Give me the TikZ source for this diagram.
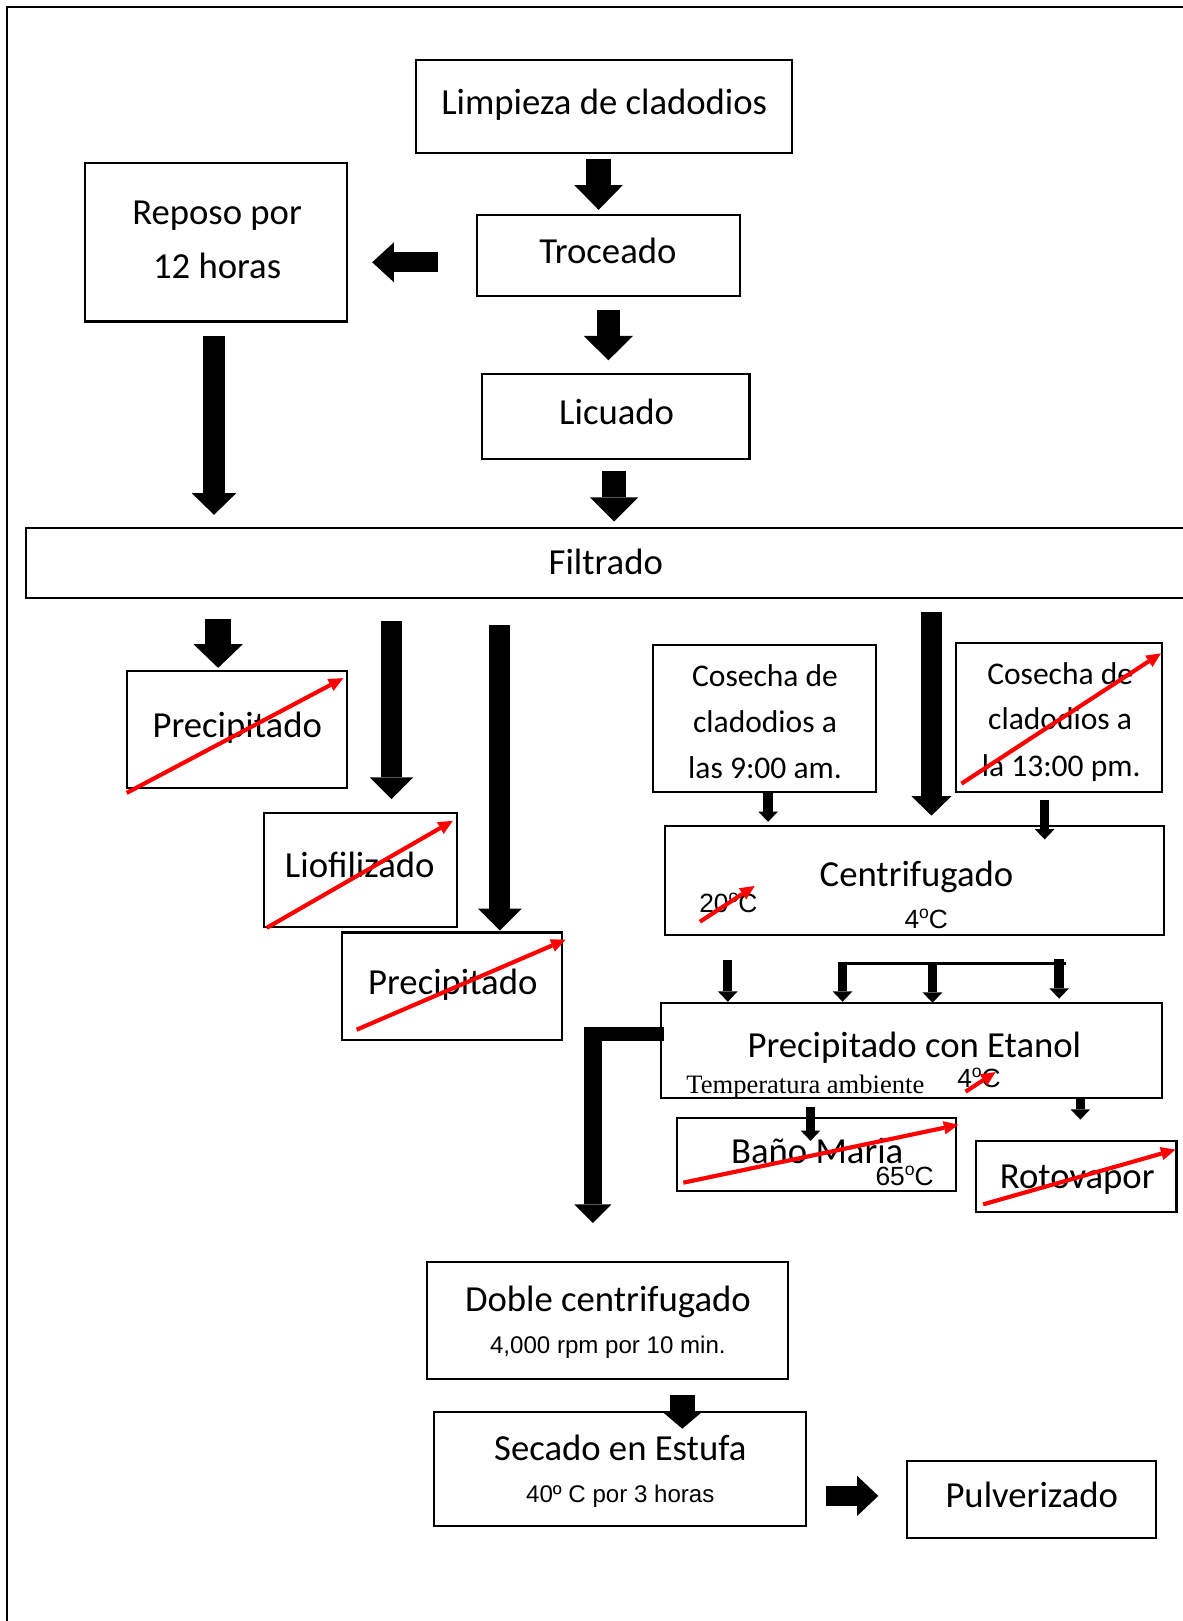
\documentclass[tikz,border=0pt]{standalone}
\usepackage{fontspec}
\setmainfont{Carlito}
\newfontfamily\arialfam{Liberation Sans}
\newfontfamily\serifam{Liberation Serif}
\usetikzlibrary{arrows.meta,calc}

% small raised "o" used as degree sign
\newcommand\supo{\raisebox{10pt}{\fontsize{17}{17}\selectfont o}}

\tikzset{
  box/.style={draw, line width=2pt, inner sep=0pt},
  lbl/.style={anchor=base, inner sep=0pt, font=\fontsize{35.5}{40}\selectfont},
  lblsmall/.style={anchor=base, inner sep=0pt, font=\fontsize{30.5}{36}\selectfont},
  degtxt/.style={anchor=base, inner sep=0pt, font=\arialfam\fontsize{25.5}{30}\selectfont},
  notetxt/.style={anchor=base, inner sep=0pt, font=\arialfam\fontsize{23.3}{28}\selectfont},
  serifnote/.style={anchor=base, inner sep=0pt, font=\serifam\fontsize{25.7}{30}\selectfont},
  blockarrow/.style n args={3}{line width=#1, -{Triangle[width=#2, length=#3, line width=0pt]}},
  fatarrow/.style={blockarrow={24pt}{47pt}{24pt}},
  longarrow/.style={blockarrow={20.5pt}{42pt}{21pt}},
  thinarrow/.style={blockarrow={9pt}{19pt}{10pt}},
  strike/.style={red, line width=4pt, -{Triangle[width=13pt, length=14pt, line width=0pt]}},
}

\begin{document}
\begin{tikzpicture}[x=1pt, y=-1pt]
\useasboundingbox (0,0) rectangle (1144,1568);

% page frame (top and left edges)
\draw[line width=2.2pt] (6.5,1580) -- (6.5,6.5) -- (1160,6.5);

% ---------- process boxes ----------
\node[box, minimum width=364pt, minimum height=90pt]  (limp)  at (584,103) {};
\node[box, minimum width=255pt, minimum height=78pt]  (troc)  at (588.5,247) {};
\node[box, minimum width=259pt, minimum height=82pt]  (licu)  at (595.5,403) {};
\node[box, minimum width=254pt, minimum height=153pt] (repo)  at (209,234.5) {};
\node[box, minimum width=1122pt, minimum height=67pt] (filt)  at (586,544.5) {};
\node[box, minimum width=213pt, minimum height=113pt] (prec1) at (229.5,705.5) {};
\node[box, minimum width=187pt, minimum height=111pt] (liof)  at (348.5,841.5) {};
\node[box, minimum width=213pt, minimum height=104pt] (prec2) at (437.5,954) {};
\node[box, minimum width=215pt, minimum height=142pt] (cos9)  at (739.5,695) {};
\node[box, minimum width=199pt, minimum height=144pt] (cos13) at (1024.5,694) {};
\node[box, minimum width=483pt, minimum height=105pt] (cent)  at (884.5,851.5) {};
\node[box, minimum width=485pt, minimum height=92pt]  (etan)  at (881.5,1016) {};
\node[box, minimum width=270pt, minimum height=71pt]  (bano)  at (790,1116.5) {};
\node[box, minimum width=194pt, minimum height=68pt]  (roto)  at (1041,1138) {};
\node[box, minimum width=349pt, minimum height=113pt] (doble) at (587.5,1277.5) {};
\node[box, minimum width=360pt, minimum height=110pt] (seca)  at (600,1421) {};
\node[box, minimum width=241pt, minimum height=75pt]  (pulv)  at (997.5,1450.5) {};

% ---------- texts ----------
\node[lbl] (t-limp) at (584.5,111) {Limpieza de cladodios};
\node[lbl] (t-troc) at (588,255) {Troceado};
\node[lbl] (t-licu) at (596.5,411) {Licuado};
\node[lbl] (t-repo1) at (210,217) {Reposo por};
\node[lbl] (t-repo2) at (210,269) {12 horas};
\node[lbl] (t-filt) at (586,556) {Filtrado};
\node[lbl] (t-prec1) at (229.5,713) {Precipitado};
\node[lbl] (t-liof) at (348,849) {Liofilizado};
\node[lbl] (t-prec2) at (438,962) {Precipitado};

\node[lblsmall] (t-cos9a) at (740,664) {Cosecha de};
\node[lblsmall] (t-cos9b) at (740,708.5) {cladodios a};
\node[lblsmall] (t-cos9c) at (740,753) {las 9:00 am.};
\node[lblsmall] (t-cos13a) at (1025.5,662.5) {Cosecha de};
\node[lblsmall] (t-cos13b) at (1025.5,706) {cladodios a};
\node[lblsmall] (t-cos13c) at (1026.5,751) {la 13:00 pm.};

\node[lbl] (t-cent) at (886.5,857.5) {Centrifugado};
\node[degtxt] (t-cent4) at (896,898.5) {4\supo C};
\node[degtxt] (t-cent20) at (704.5,882.5) {20\supo C};

\node[lbl] (t-etan) at (884.5,1023) {Precipitado con Etanol};
\node[serifnote] (t-temp) at (779,1058) {Temperatura ambiente};
\node[degtxt] (t-etan4) at (947,1052) {4\supo C};

\node[lbl] (t-bano) at (790.5,1125.5) {Baño Maria};
\node[degtxt] (t-bano65) at (875,1147) {65\supo C};
\node[lbl] (t-roto) at (1042,1150) {Rotovapor};

\node[lbl] (t-doble) at (588,1269) {Doble centrifugado};
\node[notetxt] (t-doble2) at (588,1309) {4,000 rpm por 10 min.};
\node[lbl] (t-seca) at (600,1412.5) {Secado en Estufa};
\node[notetxt] (t-seca2) at (600,1453) {40º C por 3 horas};
\node[lbl] (t-pulv) at (998,1458) {Pulverizado};

% ---------- black block arrows ----------
\draw[fatarrow] ($(limp.south)+(-5,5)$) -- ++(0,49);
\draw[blockarrow={19.5pt}{38.5pt}{21pt}] ($(troc.west)+(-36,6.7)$) -- ++(-64,0);
\draw[blockarrow={23pt}{47.5pt}{23.5pt}] ($(troc.south)+(0,13)$) -- ++(0,48.5);
\draw[blockarrow={24pt}{47pt}{23.5pt}] ($(licu.south)+(-1.5,10.7)$) -- ++(0,48.8);
\draw[blockarrow={20.5pt}{43pt}{21pt}] ($(repo.south)+(-2,13)$) -- ++(0,173);

\draw[blockarrow={24.5pt}{48pt}{23pt}] ($(filt.south west)+(187,20)$) -- ++(0,47);
\draw[longarrow] ($(filt.south west)+(354.6,22)$) -- ++(0,172);
\draw[longarrow] ($(filt.south west)+(459.5,25.5)$) -- ++(0,295.5);
\draw[blockarrow={19.5pt}{39pt}{19pt}] ($(filt.south west)+(877,13)$) -- ++(0,197);

\draw[thinarrow] ($(cos9.south)+(3.5,0)$) -- ++(0,28);
\draw[thinarrow] ($(cos13.south)+(-14,7)$) -- ++(0,38);

\draw[line width=3pt] ($(cent.south)+(-74,27)$) -- ++(221,0);
\draw[thinarrow] ($(cent.south)+(-180.5,24)$) -- ++(0,40);
\draw[thinarrow] ($(cent.south)+(-69.5,25.5)$) -- ++(0,38.5);
\draw[thinarrow] ($(cent.south)+(17.5,27)$) -- ++(0,38);
\draw[thinarrow] ($(cent.south)+(140,23)$) -- ++(0,38);

\draw[thinarrow] ($(etan.south)+(-97.5,7.6)$) -- ++(0,33);
\draw[thinarrow] ($(etan.south)+(163.5,0)$) -- ++(0,20);

% elbow from the ethanol step down to the double centrifugation
\draw[line width=13.5pt] ($(etan.west)+(4,-16.25)$) -- ++(-77,0);
\draw[blockarrow={17.5pt}{36pt}{18pt}] ($(etan.west)+(-64.5,-23)$) -- ++(0,190);

\draw[blockarrow={24pt}{40pt}{17pt}] ($(doble.south)+(72.5,14.5)$) -- ++(0,32.5);
\draw[blockarrow={20pt}{39pt}{20.6pt}] ($(seca.east)+(18,26)$) -- ++(50.6,0);

% ---------- red strike-through arrows ----------
\draw[strike] (122.5,767) -- (332,656);
\draw[strike] (258,897.5) -- (438,794);
\draw[strike] (345,996) -- (547,909);
\draw[strike] (930,758) -- (1123,632);
\draw[strike] (677,891.6) -- (730,857);
\draw[strike] (934,1056) -- (963,1037);
\draw[strike] (661,1144) -- (927,1088);
\draw[strike] (951,1165) -- (1137,1112);
\end{tikzpicture}
\end{document}
